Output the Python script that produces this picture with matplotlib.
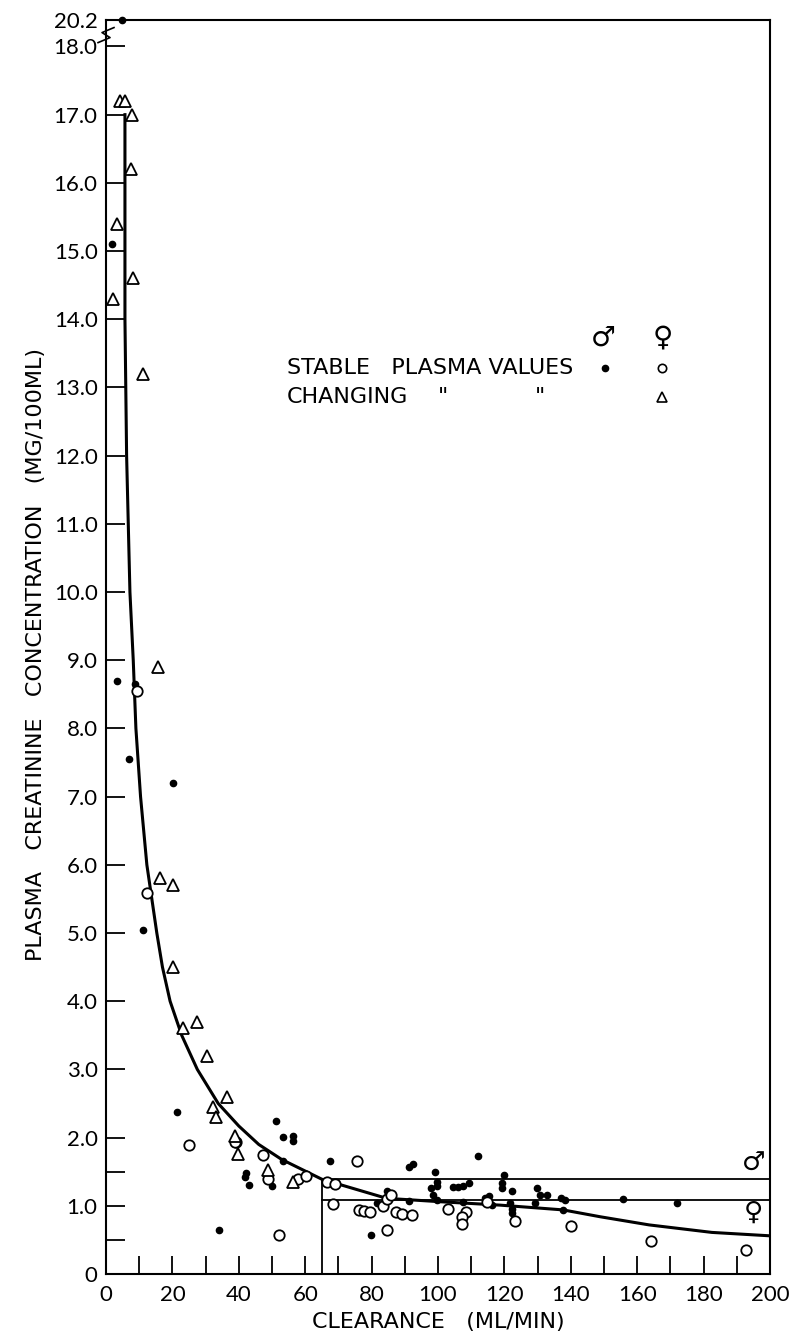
import numpy as np
import matplotlib
matplotlib.use("Agg")
import matplotlib.pyplot as plt

# male, stable plasma values (filled dots)
male_x = [4.7, 1.7, 3.2, 8.7, 7.0, 20.3, 11.1, 21.3, 51.2, 53.2, 56.2, 56.2, 53.2, 42.1, 42.0, 43.1,
          50.1, 34.0, 67.5, 79.7, 81.5, 84.6, 91.4, 91.2, 92.4, 99.1, 99.8, 99.8, 97.9, 98.6, 99.8,
          104.6, 106.1, 107.6, 109.2, 112.1, 107.6, 114.2, 115.4, 116.2, 119.9, 119.2, 119.2, 122.4,
          121.6, 122.2, 122.2, 129.7, 130.7, 132.7, 129.2, 137.0, 138.2, 137.7, 155.6, 172.1]
male_y = [20.2, 15.1, 8.7, 8.65, 7.55, 7.2, 5.05, 2.38, 2.25, 2.01, 2.03, 1.95, 1.66, 1.48, 1.42, 1.31,
          1.29, 0.64, 1.66, 0.57, 1.04, 1.22, 1.07, 1.57, 1.61, 1.5, 1.35, 1.29, 1.26, 1.16, 1.08,
          1.27, 1.28, 1.29, 1.33, 1.73, 1.05, 1.11, 1.14, 1.01, 1.45, 1.33, 1.26, 1.22,
          1.04, 0.96, 0.9, 1.26, 1.16, 1.16, 1.04, 1.12, 1.08, 0.94, 1.1, 1.04]

# female, stable plasma values (open circles)
female_x = [9.4, 12.3, 25.1, 39.2, 39.0, 47.2, 48.8, 57.7, 60.2, 66.5, 69.0, 52.1, 75.5, 68.3,
            76.3, 77.8, 79.5, 84.5, 83.3, 84.6, 85.8, 87.3, 89.3, 92.3, 103.1, 108.3, 107.1, 107.1,
            114.7, 123.2, 140.0, 164.3, 192.8]
female_y = [8.55, 5.59, 1.89, 1.94, 1.93, 1.75, 1.39, 1.39, 1.44, 1.35, 1.32, 0.57, 1.66, 1.02,
            0.94, 0.93, 0.91, 0.65, 1.0, 1.1, 1.16, 0.91, 0.88, 0.86, 0.95, 0.91, 0.84, 0.74,
            1.05, 0.77, 0.71, 0.48, 0.35]

# changing plasma values (triangles)
chg_x = [4.2, 5.7, 7.7, 7.5, 3.4, 8.2, 2.2, 11.2, 15.8, 16.3, 20.3, 20.3, 23.1, 27.3, 30.3, 36.4,
         32.3, 33.1, 38.7, 39.9, 48.9, 56.2]
chg_y = [17.2, 17.2, 17.0, 16.2, 15.4, 14.6, 14.3, 13.2, 8.9, 5.8, 5.7, 4.5, 3.6, 3.7, 3.2, 2.6,
         2.45, 2.3, 2.03, 1.76, 1.52, 1.35]

# fitted curve
curve_x = [5.7, 5.7, 6.2, 7.2, 8.2, 9.0, 10.4, 12.3, 13.8, 15.3, 17.0, 19.3, 22.8, 27.5, 33.8, 40.0,
           46.0, 52.9, 65.0, 84.5, 100.6, 118.7, 137.7, 148.8, 163.6, 182.5, 200.0]
curve_y = [17.0, 14.0, 12.0, 10.0, 9.0, 8.0, 7.0, 6.0, 5.5, 5.0, 4.5, 4.0, 3.5, 3.0, 2.5, 2.17,
           1.9, 1.68, 1.39, 1.11, 1.06, 1.01, 0.94, 0.84, 0.72, 0.61, 0.56]

# normal range lines
cut_x = 65
male_limit = 1.39
female_limit = 1.085

ytick_vals = list(range(0, 19)) + [20.2]
ytick_labels = ["0"] + ["%.1f" % v for v in range(1, 19)] + ["20.2"]
xtick_vals = list(range(0, 201, 20))

K = 0.176


def fwd(y):
    y = np.asarray(y, dtype=float)
    return np.where(y <= 18, y, 18 + (y - 18) * K)


def inv(v):
    v = np.asarray(v, dtype=float)
    return np.where(v <= 18, v, 18 + (v - 18) / K)


plt.rcParams['font.family'] = ['Lato', 'DejaVu Sans']
lab = dict(family='DejaVu Sans', fontsize=16)

fig = plt.figure(figsize=(7.96, 13.36), dpi=100)
ax = fig.add_axes([0.1332, 0.0464, 0.8341, 0.9386])
ax.set_yscale('function', functions=(fwd, inv))
ax.set_xlim(0, 200)
ax.set_ylim(0, 20.2)

ax.plot(curve_x, curve_y, color='black', lw=2.2)
ax.plot([cut_x, cut_x], [0, male_limit], color='black', lw=1.3)
ax.plot([cut_x, 200], [male_limit, male_limit], color='black', lw=1.3)
ax.plot([cut_x, 200], [female_limit, female_limit], color='black', lw=1.3)

ax.plot(male_x, male_y, 'o', color='black', ms=4.5, clip_on=False)
ax.plot(female_x, female_y, 'o', mfc='white', mec='black', mew=1.3, ms=7.5)
ax.plot(chg_x, chg_y, '^', mfc='white', mec='black', mew=1.3, ms=9)

# legend block
ax.text(0.2726, 0.7225, "STABLE   PLASMA VALUES", transform=ax.transAxes, va='center', **lab)
ax.text(0.2726, 0.699, "CHANGING", transform=ax.transAxes, va='center', **lab)
ax.text(0.5075, 0.699, '"', transform=ax.transAxes, va='center', ha='center', **lab)
ax.text(0.654, 0.699, '"', transform=ax.transAxes, va='center', ha='center', **lab)
ax.plot([0.7515], [0.7225], 'o', color='black', ms=4.5, transform=ax.transAxes)
ax.plot([0.837], [0.7225], 'o', mfc='white', mec='black', mew=1.2, ms=6, transform=ax.transAxes)
ax.plot([0.837], [0.699], '^', mfc='white', mec='black', mew=1.2, ms=7, transform=ax.transAxes)
ax.text(0.749, 0.747, "\u2642", transform=ax.transAxes, fontsize=20, ha='center', va='center',
        family='DejaVu Sans')
ax.text(0.839, 0.747, "\u2640", transform=ax.transAxes, fontsize=20, ha='center', va='center',
        family='DejaVu Sans')
ax.text(195, 1.62, "\u2642", fontsize=19, ha='center', va='center', family='DejaVu Sans')
ax.text(195, 0.9, "\u2640", fontsize=19, ha='center', va='center', family='DejaVu Sans')

ax.set_yticks(ytick_vals)
ax.set_yticklabels(ytick_labels)
ax.set_yticks([0.5, 1.5], minor=True)
ax.set_xticks(xtick_vals)
ax.set_xticks(range(10, 200, 20), minor=True)
ax.tick_params(axis='both', which='both', direction='in', width=1.3, labelsize=16)
ax.tick_params(axis='y', which='both', length=14, pad=6)
ax.tick_params(axis='x', which='both', length=13, pad=8)

for s in ax.spines.values():
    s.set_linewidth(1.5)

# axis break mark on left spine
ax.plot([-0.012, 0.006, -0.006, 0.012], [0.982, 0.986, 0.990, 0.994], color='black', lw=1.2,
        transform=ax.transAxes, clip_on=False)

ax.set_xlabel("CLEARANCE   (ML/MIN)", labelpad=5, **lab)
ax.set_ylabel("PLASMA   CREATININE   CONCENTRATION   (MG/100ML)", **lab)
ax.yaxis.set_label_coords(-0.09, 0.494)

fig.savefig("out.png", dpi=100)
